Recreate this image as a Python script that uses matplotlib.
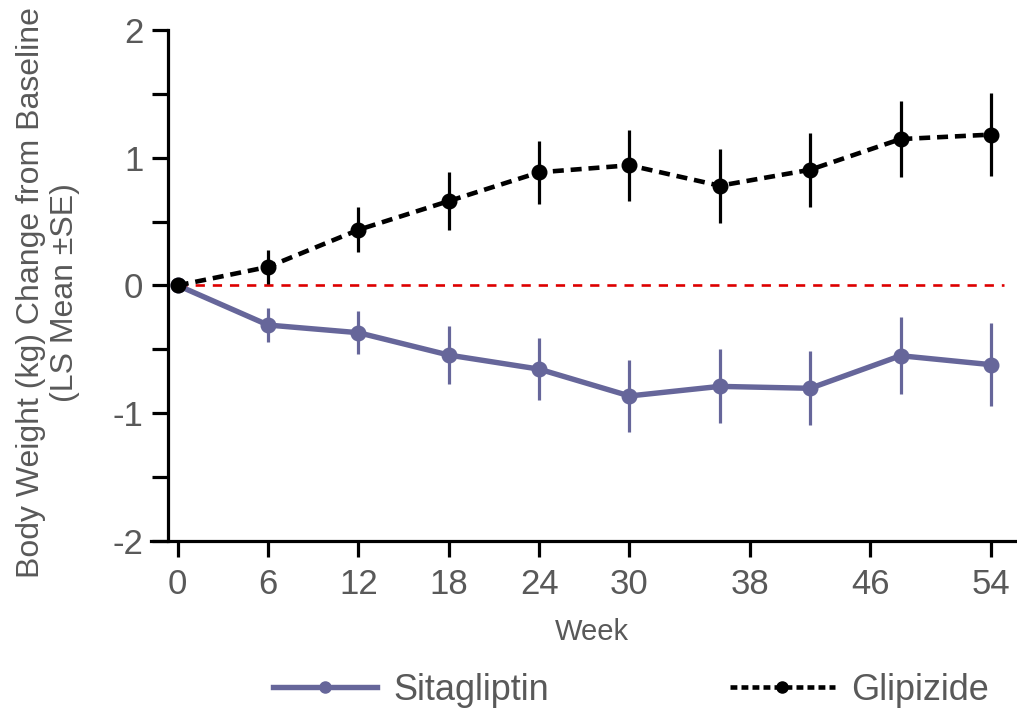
import numpy as np
import matplotlib
matplotlib.use("Agg")
import matplotlib.pyplot as plt
from matplotlib.lines import Line2D

plt.rcParams["font.family"] = ["Liberation Sans", "DejaVu Sans"]
plt.rcParams["axes.unicode_minus"] = False

weeks = [0, 6, 12, 18, 24, 30, 36, 42, 48, 54]
week_ticks = [0, 6, 12, 18, 24, 30, 38, 46, 54]

sita_mean = [0.0, -0.31, -0.37, -0.545, -0.655, -0.865, -0.79, -0.805, -0.55, -0.62]
sita_se = [0.0, 0.13, 0.17, 0.225, 0.245, 0.28, 0.29, 0.29, 0.30, 0.325]

glip_mean = [0.0, 0.145, 0.435, 0.66, 0.885, 0.94, 0.78, 0.905, 1.145, 1.18]
glip_se = [0.0, 0.13, 0.175, 0.227, 0.245, 0.276, 0.29, 0.29, 0.30, 0.325]

sita_color = "#66669a"
grey = "#595959"

fig = plt.figure(figsize=(10.17, 7.10), dpi=100)
ax = fig.add_axes([0.165, 0.238, 0.833, 0.72])

# zero reference
ax.plot([0, 54.9], [0, 0], color="#dd0000", lw=1.9, dashes=(3.5, 3), zorder=1)

# error bars drawn without week 0 (no SE at baseline)
ax.errorbar(weeks[1:], sita_mean[1:], yerr=sita_se[1:], fmt="none",
            ecolor=sita_color, elinewidth=2.3, capsize=0, zorder=2)
ax.plot(weeks, sita_mean, color=sita_color, lw=3.9, marker="o",
        markersize=10.5, zorder=3)

ax.errorbar(weeks[1:], glip_mean[1:], yerr=glip_se[1:], fmt="none",
            ecolor="black", elinewidth=2.3, capsize=0, zorder=4)
ax.plot(weeks, glip_mean, color="black", lw=3.3, dashes=(2.4, 1.5),
        marker="o", markersize=10.5, zorder=5)

ax.set_xlim(-0.66, 55.6)
ax.set_ylim(-2, 2)
ax.set_xticks(week_ticks)
ax.set_yticks([-2, -1, 0, 1, 2])
ax.set_yticks([-1.5, -0.5, 0.5, 1.5], minor=True)

for side in ["top", "right"]:
    ax.spines[side].set_visible(False)
for side in ["left", "bottom"]:
    ax.spines[side].set_linewidth(2.3)
ax.spines["bottom"].set_bounds(-1.75, 55.6)

ax.tick_params(axis="both", which="both", direction="out", width=2.3,
               length=11.5, labelsize=25, labelcolor=grey, color="black")
ax.tick_params(axis="x", pad=8)
ax.tick_params(axis="y", pad=6)

ax.set_xlabel("Week", fontsize=21, color=grey, labelpad=12)
ax.set_ylabel("Body Weight (kg) Change from Baseline\n(LS Mean \u00b1SE)",
              fontsize=23, color=grey, linespacing=1.18)
ax.yaxis.set_label_coords(-0.104, 0.486)

handles = [
    Line2D([], [], color=sita_color, lw=3.9, marker="o", markersize=8),
    Line2D([], [], color="black", lw=3.3, dashes=(1.5, 0.9), marker="o",
           markersize=8),
]
fig.legend(handles, ["Sitagliptin", "Glipizide"], loc="center",
           bbox_to_anchor=(0.62, 0.028), ncol=2, frameon=False, fontsize=26,
           handlelength=2.9, handletextpad=0.45, columnspacing=5.0,
           labelcolor=grey)

fig.savefig("out.png", dpi=100)
